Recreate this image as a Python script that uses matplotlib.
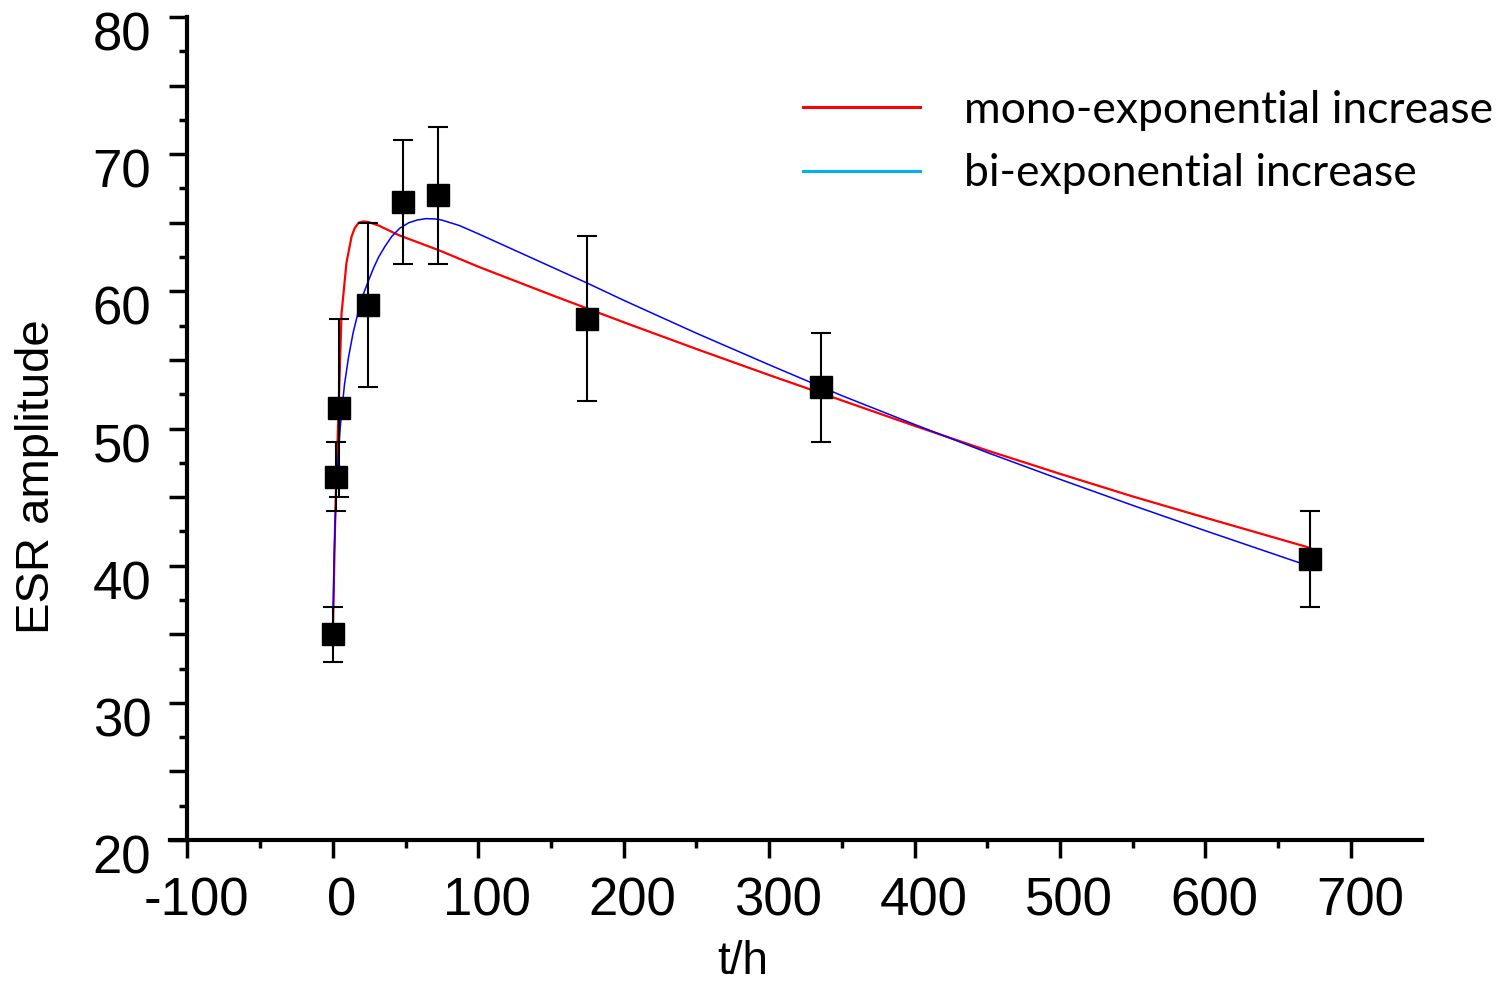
import matplotlib
matplotlib.use("Agg")
import matplotlib.pyplot as plt
import matplotlib.transforms as mtransforms
from matplotlib.lines import Line2D
from matplotlib.ticker import MultipleLocator, FuncFormatter

# measured ESR amplitudes with error bars
t_data = [0, 2, 4, 24, 48, 72, 175, 336, 672]
esr_data = [35.0, 46.5, 51.5, 59.0, 66.5, 67.0, 58.0, 53.0, 40.5]
esr_err = [2.0, 2.5, 6.5, 6.0, 4.5, 5.0, 6.0, 4.0, 3.5]

# fitted curves
t_mono = [0, 1.7, 3.9, 6.0, 9.4, 12.9, 15, 17.7, 21, 24.6, 31.5, 45.3, 72.9, 100,
          150, 200, 250, 300, 350, 400, 450, 500, 550, 600, 672]
esr_mono = [35.0, 43.8, 51.3, 58.4, 62.1, 64.0, 64.6, 65.0, 65.1, 65.05, 64.8, 64.1, 63.0, 61.8,
            59.75, 57.75, 55.8, 53.9, 52.05, 50.2, 48.4, 46.7, 45.05, 43.5, 41.3]

t_bi = [0, 1, 2.6, 5.1, 8, 10.8, 14, 17.7, 21, 24.6, 28, 31.5, 36, 40.5, 46, 52.2,
        58, 63.9, 70, 74.9, 87, 100, 125, 150, 175, 200, 250, 300, 350, 400, 450,
        500, 550, 600, 672]
esr_bi = [35.0, 41.0, 46.2, 50.1, 53.2, 55.2, 57.0, 58.6, 59.8, 60.8, 61.7, 62.5, 63.3, 64.0, 64.6, 65.0,
          65.2, 65.3, 65.28, 65.2, 64.8, 64.2, 63.0, 61.8, 60.6, 59.35, 56.95, 54.65, 52.4, 50.3, 48.25,
          46.3, 44.4, 42.55, 39.95]

legend_labels = ["mono-exponential increase", "bi-exponential increase"]

plt.rcParams["font.family"] = ["Liberation Sans", "DejaVu Sans"]
plt.rcParams["axes.unicode_minus"] = False

fig = plt.figure(figsize=(15.12, 9.84), dpi=100)
ax = fig.add_axes([0.1124, 0.1463, 0.8281, 0.8364])

ax.plot(t_mono, esr_mono, color="#ff0000", lw=1.6, zorder=3)
ax.plot(t_bi, esr_bi, color="#0000ff", lw=1.1, zorder=4)
ax.errorbar(t_data, esr_data, yerr=esr_err, fmt="s", color="black", ms=15.5,
            ecolor="black", elinewidth=1.5, capsize=7, capthick=1.5, zorder=5)

ax.set_xlim(-112, 749)
ax.set_ylim(20, 80)

ax.spines["top"].set_visible(False)
ax.spines["right"].set_visible(False)
ax.spines["left"].set_position(("data", -100))
ax.spines["left"].set_linewidth(3)
ax.spines["bottom"].set_linewidth(3)

ax.xaxis.set_major_locator(MultipleLocator(100))
ax.xaxis.set_minor_locator(MultipleLocator(50))
ax.yaxis.set_major_locator(MultipleLocator(5))
ax.yaxis.set_minor_locator(MultipleLocator(2.5))
ax.yaxis.set_major_formatter(FuncFormatter(lambda v, p: "%d" % v if v % 10 == 0 else ""))

ax.tick_params(axis="both", which="major", direction="out", length=13, width=2.5, labelsize=38)
ax.tick_params(axis="both", which="minor", direction="out", length=6, width=2.5)
ax.tick_params(axis="y", which="major", pad=13)
ax.tick_params(axis="x", which="major", pad=13)

# the original labels sit a little right of / below their ticks
x_shift = mtransforms.ScaledTranslation(9 / 100, 0, fig.dpi_scale_trans)
y_shift = mtransforms.ScaledTranslation(0, -14 / 100, fig.dpi_scale_trans)
for lab in ax.get_xticklabels():
    lab.set_transform(lab.get_transform() + x_shift)
for lab in ax.get_yticklabels():
    lab.set_transform(lab.get_transform() + y_shift)

ax.set_ylabel("ESR amplitude", fontsize=34)
ax.yaxis.set_label_coords(-0.0887, 0.441)
ax.set_xlabel("t/h", fontsize=33)
ax.xaxis.set_label_coords(0.4577, -0.122)

handles = [Line2D([], [], color="#ff0000", lw=2.2),
           Line2D([], [], color="#00b0f0", lw=2.2)]
ax.legend(handles, legend_labels, loc="upper left", bbox_to_anchor=(0.4736, 0.96),
          frameon=False, prop={"family": "Lato", "size": 32},
          handlelength=2.63, handletextpad=1.0, labelspacing=0.5)

fig.savefig("out.png", dpi=100)
